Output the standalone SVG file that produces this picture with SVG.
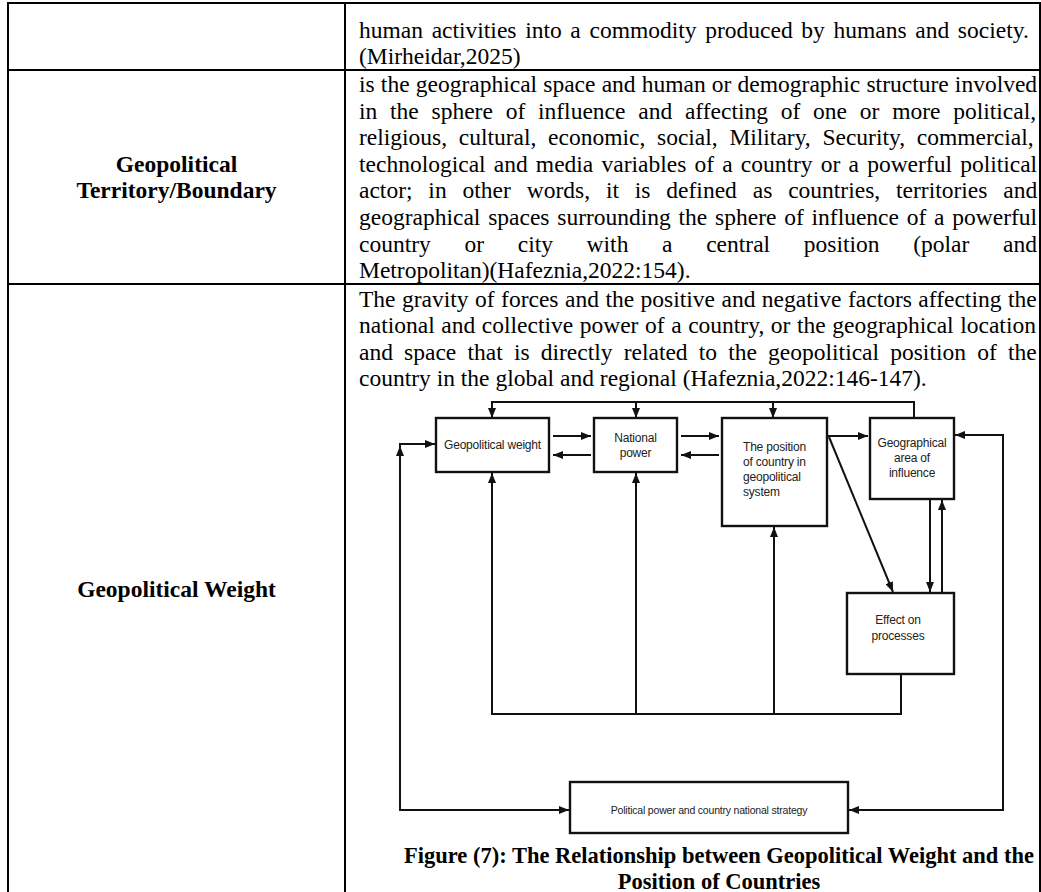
<svg xmlns="http://www.w3.org/2000/svg" width="1041" height="892" viewBox="0 0 1041 892">
<style>
.tb{stroke:#000;stroke-width:2;fill:none}
.body{font-family:"Liberation Serif","Times New Roman",serif;font-size:23.5px;fill:#000}
.lab{font-family:"Liberation Serif","Times New Roman",serif;font-size:23.5px;font-weight:bold;fill:#000;text-anchor:middle}
.cap{font-family:"Liberation Serif","Times New Roman",serif;font-size:22.5px;font-weight:bold;fill:#000;text-anchor:middle}
.box{fill:#fff;stroke:#111;stroke-width:2.4}
.dt{font-family:"Liberation Sans",Arial,sans-serif;font-size:12px;fill:#222;letter-spacing:-0.2px}
.mid{text-anchor:middle}
.cn{stroke:#111;stroke-width:2;fill:none}
</style>
<defs>
<marker id="ah" viewBox="0 0 10 8" refX="10" refY="4" markerWidth="10" markerHeight="8" markerUnits="userSpaceOnUse" orient="auto"><path d="M0,0 L10,4 L0,8 z" fill="#111"/></marker>
</defs>
<rect width="1041" height="892" fill="#fff"/>
<g id="table">
<line class="tb" x1="8" y1="3" x2="1040" y2="3"/>
<line class="tb" x1="8" y1="70" x2="1040" y2="70"/>
<line class="tb" x1="8" y1="284" x2="1040" y2="284"/>
<line class="tb" x1="8" y1="2" x2="8" y2="892"/>
<line class="tb" x1="345" y1="2" x2="345" y2="892"/>
<line class="tb" x1="1040" y1="2" x2="1040" y2="892"/>
</g>
<g id="row1-text" class="body">
<text x="359" y="37.5" style="word-spacing:2.8px">human activities into a commodity produced by humans and society.</text>
<text x="359" y="64">(Mirheidar,2025)</text>
</g>
<g id="row2-label" class="lab">
<text x="176.5" y="172">Geopolitical</text>
<text x="176.5" y="198">Territory/Boundary</text>
</g>
<g id="row2-text" class="body">
<text x="359" y="92" style="word-spacing:0.3px">is the geographical space and human or demographic structure involved</text>
<text x="359" y="118.6" style="word-spacing:6.9px">in the sphere of influence and affecting of one or more political,</text>
<text x="359" y="145.2" style="word-spacing:5.8px">religious, cultural, economic, social, Military, Security, commercial,</text>
<text x="359" y="171.8" style="word-spacing:2.3px">technological and media variables of a country or a powerful political</text>
<text x="359" y="198.4" style="word-spacing:10px">actor; in other words, it is defined as countries, territories and</text>
<text x="359" y="225" style="word-spacing:1.9px">geographical spaces surrounding the sphere of influence of a powerful</text>
<text x="359" y="251.6" style="word-spacing:27.8px">country or city with a central position (polar and</text>
<text x="359" y="278.2">Metropolitan)(Hafeznia,2022:154).</text>
</g>
<g id="row3-label" class="lab">
<text x="176.5" y="597">Geopolitical Weight</text>
</g>
<g id="row3-text" class="body">
<text x="359" y="306.5" style="word-spacing:0.6px">The gravity of forces and the positive and negative factors affecting the</text>
<text x="359" y="333" style="word-spacing:0.7px">national and collective power of a country, or the geographical location</text>
<text x="359" y="359.5" style="word-spacing:5.3px">and space that is directly related to the geopolitical position of the</text>
<text x="359" y="386">country in the global and regional (Hafeznia,2022:146-147).</text>
</g>
<g id="connectors">
<polyline class="cn" points="914,418 914,402 492,402"/>
<line class="cn" x1="492" y1="401" x2="492" y2="418" marker-end="url(#ah)"/>
<line class="cn" x1="636" y1="401" x2="636" y2="418" marker-end="url(#ah)"/>
<line class="cn" x1="773" y1="401" x2="773" y2="418" marker-end="url(#ah)"/>
<line class="cn" x1="553" y1="436" x2="591" y2="436" marker-end="url(#ah)"/>
<line class="cn" x1="591" y1="455" x2="553" y2="455" marker-end="url(#ah)"/>
<line class="cn" x1="681" y1="436" x2="719" y2="436" marker-end="url(#ah)"/>
<line class="cn" x1="719" y1="455" x2="681" y2="455" marker-end="url(#ah)"/>
<line class="cn" x1="828" y1="436" x2="868" y2="436" marker-end="url(#ah)"/>
<line class="cn" x1="829" y1="437" x2="893" y2="592" marker-end="url(#ah)"/>
<line class="cn" x1="930" y1="499" x2="930" y2="592" marker-end="url(#ah)"/>
<line class="cn" x1="942" y1="593" x2="942" y2="500" marker-end="url(#ah)"/>
<polyline class="cn" points="492,714 901,714 901,674"/>
<line class="cn" x1="492" y1="715" x2="492" y2="473" marker-end="url(#ah)"/>
<line class="cn" x1="636" y1="714" x2="636" y2="473" marker-end="url(#ah)"/>
<line class="cn" x1="774" y1="714" x2="774" y2="527" marker-end="url(#ah)"/>
<polyline class="cn" points="400,810 400,444 435,444" marker-end="url(#ah)"/>
<path d="M400,446 L404,456 L396,456 z" fill="#111"/>
<line class="cn" x1="399" y1="810" x2="569" y2="810" marker-end="url(#ah)"/>
<polyline class="cn" points="1003,810 1003,435 955,435" marker-end="url(#ah)"/>
<line class="cn" x1="1004" y1="810" x2="849" y2="810" marker-end="url(#ah)"/>
</g>
<g id="node-geopolitical-weight">
<rect class="box" x="436" y="418" width="113" height="54"/>
<text class="dt mid" x="492.5" y="449">Geopolitical weight</text>
</g>
<g id="node-national-power">
<rect class="box" x="594" y="418" width="83" height="54"/>
<text class="dt mid" x="635.5" y="442">National</text>
<text class="dt mid" x="635.5" y="457">power</text>
</g>
<g id="node-position">
<rect class="box" x="722" y="418" width="105" height="108"/>
<text class="dt" x="743" y="451">The position</text>
<text class="dt" x="743" y="466">of country in</text>
<text class="dt" x="743" y="481">geopolitical</text>
<text class="dt" x="743" y="496">system</text>
</g>
<g id="node-geographical-area">
<rect class="box" x="870" y="418" width="84" height="81"/>
<text class="dt mid" x="912" y="447">Geographical</text>
<text class="dt mid" x="912" y="462">area of</text>
<text class="dt mid" x="912" y="477">influence</text>
</g>
<g id="node-effect">
<rect class="box" x="847" y="593" width="107" height="81"/>
<text class="dt mid" x="898" y="624">Effect on</text>
<text class="dt mid" x="898" y="640">processes</text>
</g>
<g id="node-political-power">
<rect class="box" x="570" y="782" width="278" height="51"/>
<text class="dt mid" x="709" y="814" style="font-size:10.5px">Political power and country national strategy</text>
</g>
<g id="caption" class="cap">
<text x="719" y="863">Figure (7): The Relationship between Geopolitical Weight and the</text>
<text x="719" y="889">Position of Countries</text>
</g>
</svg>
